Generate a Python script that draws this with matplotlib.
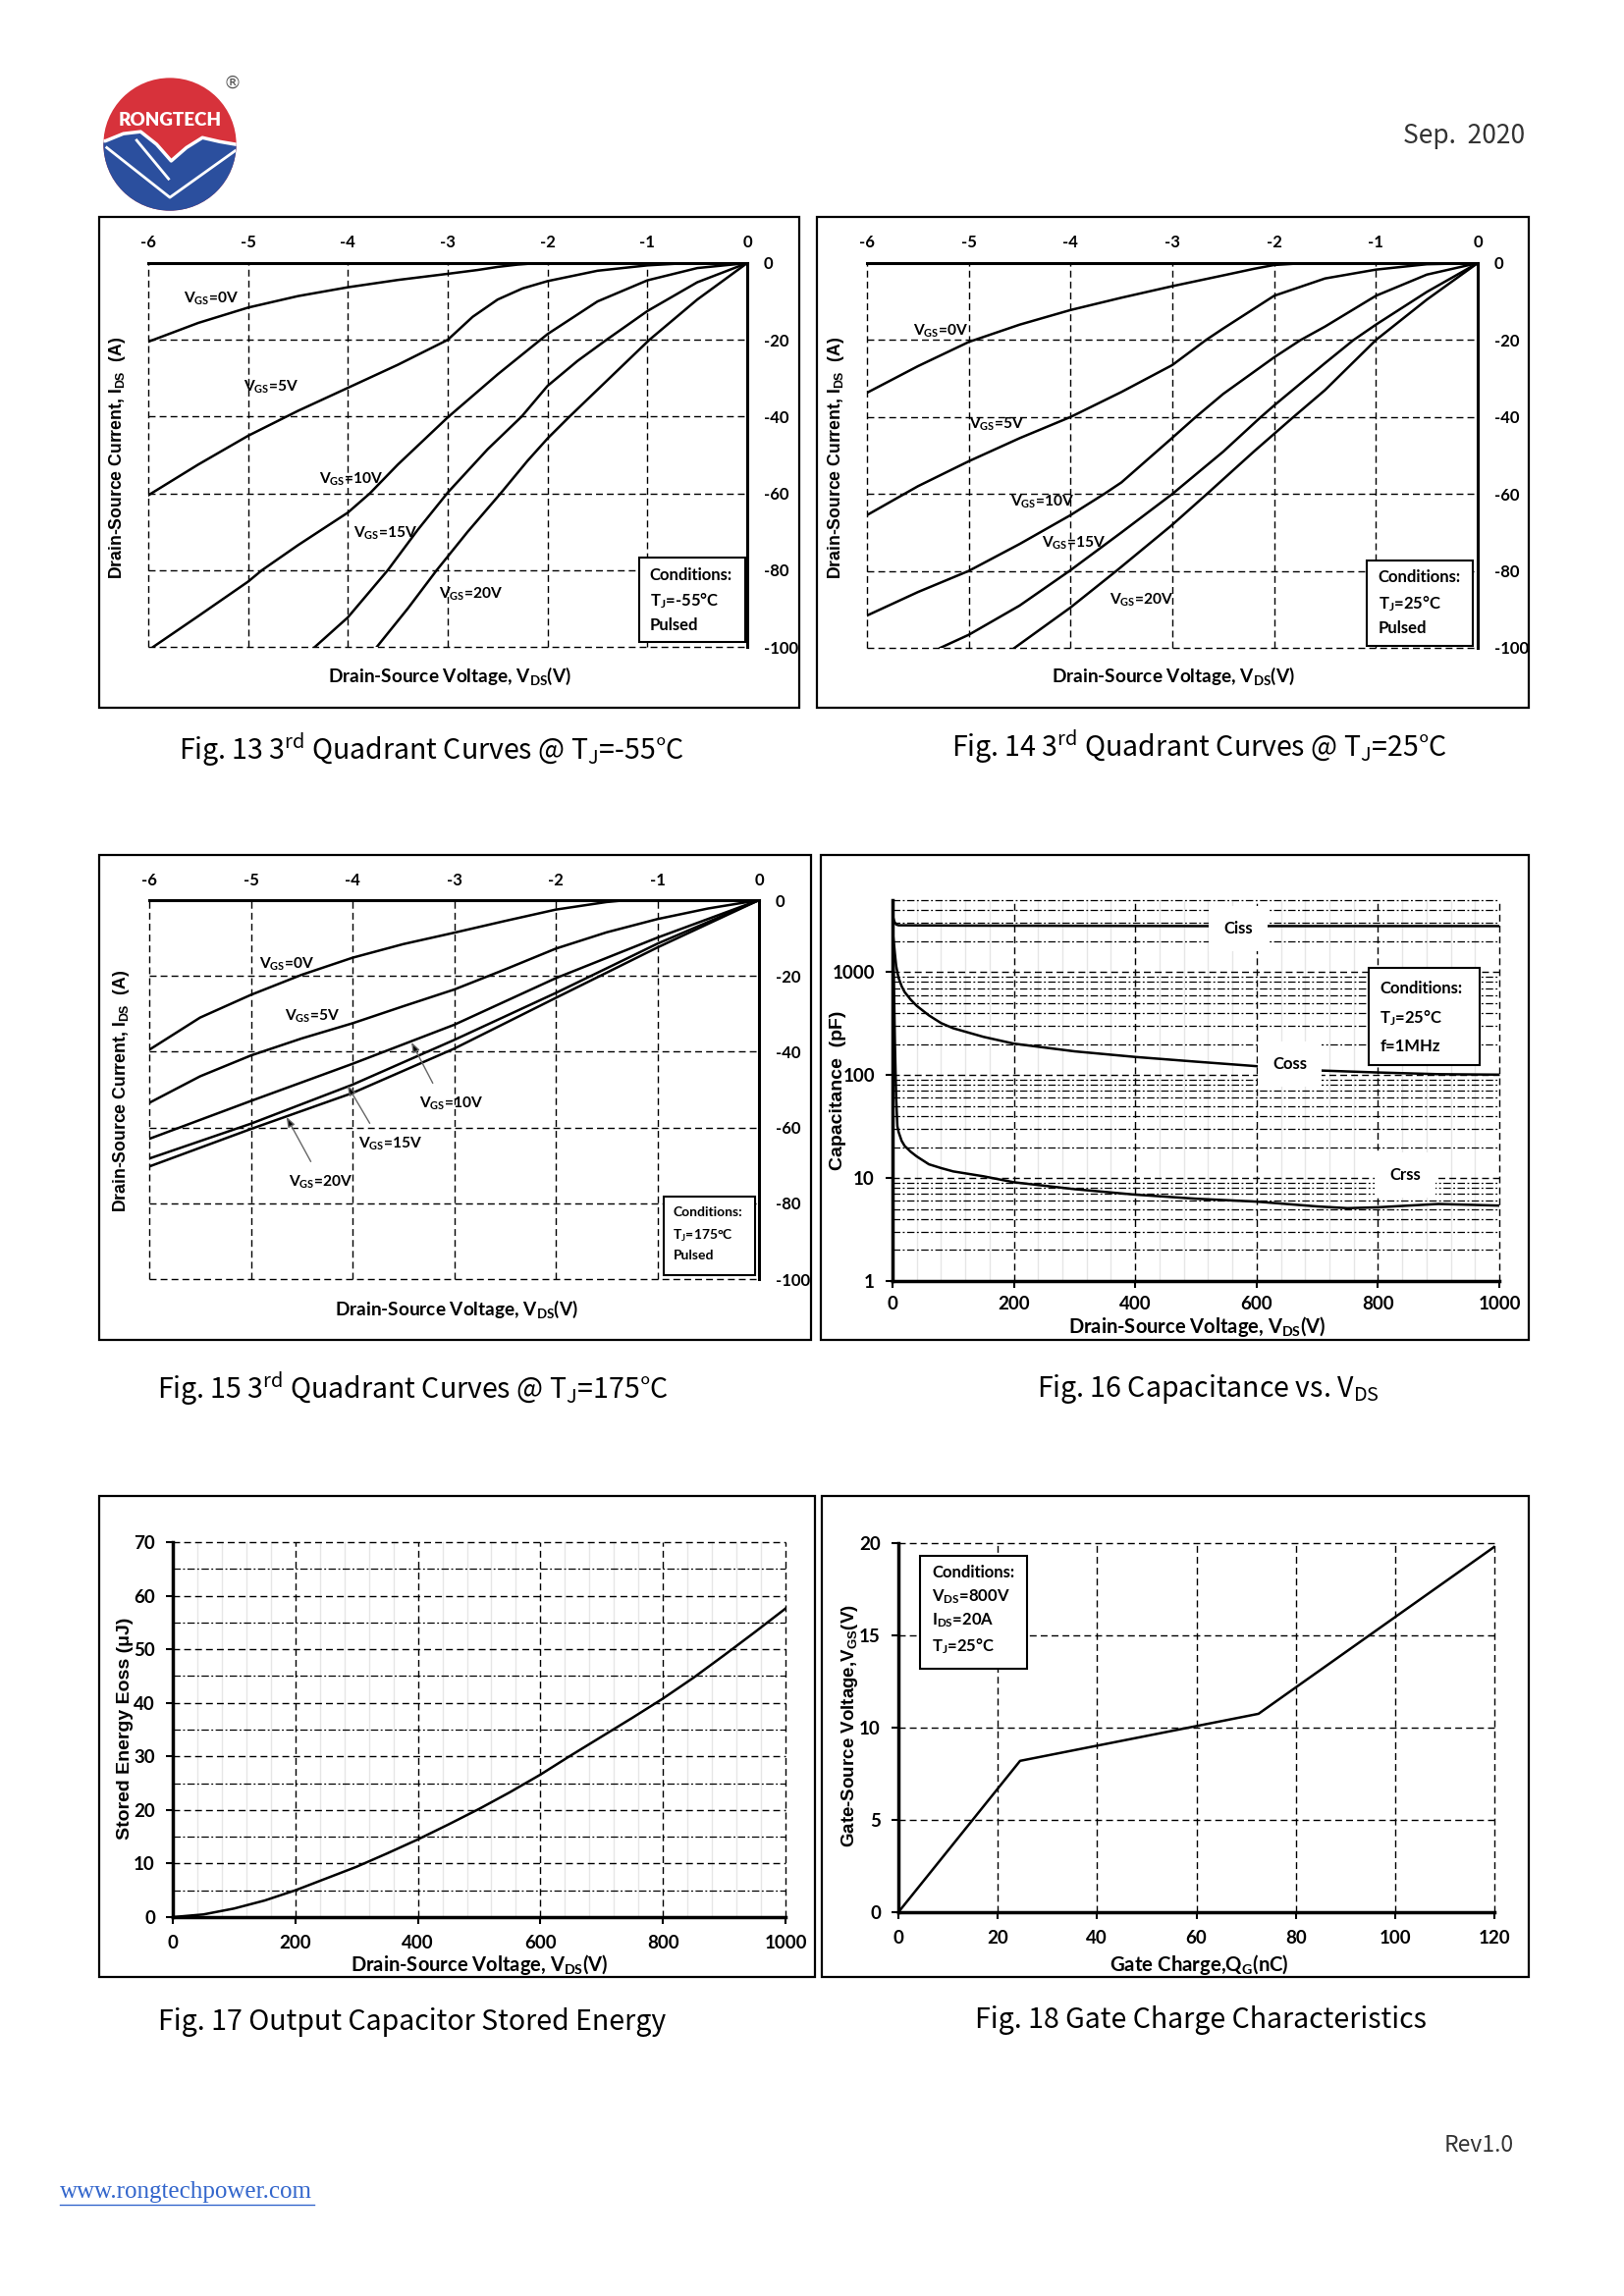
import numpy as np
import matplotlib
matplotlib.use('Agg')
import matplotlib.pyplot as plt
import matplotlib.font_manager as fm
from matplotlib.patches import Rectangle, Circle, Polygon
from matplotlib.lines import Line2D
from matplotlib.ticker import MultipleLocator, LogLocator, NullFormatter

# ---- data ----
# Fig. 13, Tj = -55C
f13_vgs0_v = [-6, -5.5, -5, -4.5, -4, -3.5, -3, -2.7, -2.5, -2.3, -2.1, 0]
f13_vgs0_i = [-20.5, -15.6, -11.6, -8.6, -6.3, -4.4, -2.8, -1.8, -1.0, -0.4, 0, 0]
f13_vgs5_v = [-6, -5.5, -5, -4.5, -4, -3.5, -3, -2.75, -2.5, -2.25, -2, -1.5, -1, -0.6, 0]
f13_vgs5_i = [-60.5, -52.5, -45, -38.5, -32.5, -26.5, -20, -14, -9.5, -6.6, -4.7, -2.0, -0.6, 0, 0]
f13_vgs10_v = [-5.95, -5.5, -5, -4.86, -4.5, -4, -3.78, -3.5, -3, -2.5, -2, -1.5, -1, -0.5, 0]
f13_vgs10_i = [-100, -92, -83, -80, -73.5, -65, -60, -52.5, -40.2, -29, -18.5, -10, -4.5, -1.3, 0]
f13_vgs15_v = [-4.33, -4, -3.6, -3.3, -3, -2.6, -2.26, -2, -1.7, -1.41, -1, -0.5, 0]
f13_vgs15_i = [-100, -92.3, -80, -69.5, -59.8, -48.5, -40, -32, -25.5, -20, -12.5, -5, 0]
f13_vgs20_v = [-3.71, -3.4, -3.11, -2.8, -2.47, -2.2, -2, -1.78, -1.4, -0.98, -0.5, 0]
f13_vgs20_i = [-100, -90, -80, -70, -60, -51.5, -45.7, -40, -30.5, -20, -9.5, 0]

# Fig. 14, Tj = 25C
f14_vgs0_v = [-6, -5.5, -5, -4.5, -4, -3.5, -3, -2.5, -2.2, -2, -1.7, 0]
f14_vgs0_i = [-33.7, -26.8, -20.5, -16, -12.2, -9, -6, -3.2, -1.5, -0.5, 0, 0]
f14_vgs5_v = [-6, -5.5, -5, -4.5, -4, -3.5, -3, -2.67, -2.5, -2, -1.5, -1, -0.5, 0]
f14_vgs5_i = [-65.5, -58, -51.5, -45.5, -40, -33.5, -26.5, -20, -17, -8.5, -4, -1.7, -0.3, 0]
f14_vgs10_v = [-6, -5.5, -5, -4.5, -4, -3.67, -3.5, -3, -2.77, -2.5, -2, -1.74, -1.5, -1, -0.5, 0]
f14_vgs10_i = [-91.6, -85.5, -80, -73, -65.5, -60, -57, -45.4, -40, -34, -24.5, -20, -16.5, -8.5, -3, 0]
f14_vgs15_v = [-5.28, -5, -4.5, -4.01, -3.5, -3, -2.5, -2.13, -2, -1.5, -1.22, -1, -0.5, 0]
f14_vgs15_i = [-100, -96.6, -89, -80, -70, -60, -49, -40, -37, -26, -20, -16, -7.5, 0]
f14_vgs20_v = [-4.55, -4, -3.55, -3, -2.66, -2.2, -1.81, -1.5, -1, -0.5, 0]
f14_vgs20_i = [-100, -89.5, -80, -68, -60, -49, -40, -33, -20, -9.5, 0]

# Fig. 15, Tj = 175C
f15_vgs0_v = [-6, -5.5, -5, -4.5, -4, -3.5, -3, -2.5, -2, -1.5, -1.3, 0]
f15_vgs0_i = [-39.5, -31, -25, -19.7, -15.2, -11.6, -8.6, -5.5, -2.5, -0.5, 0, 0]
f15_vgs5_v = [-6, -5.5, -5, -4.5, -4, -3.5, -3, -2.5, -2, -1.5, -1, -0.5, 0]
f15_vgs5_i = [-53.5, -46.5, -41, -36.5, -32.5, -28, -23.6, -18.3, -12.8, -8.5, -5, -2.2, 0]
f15_vgs10_v = [-6, -5, -4, -3, -2, -1, 0]
f15_vgs10_i = [-63, -53, -43.2, -32.9, -20.6, -9.9, 0]
f15_vgs15_v = [-6, -5, -4, -3, -2, -1, 0]
f15_vgs15_i = [-68.2, -59, -48.7, -36.9, -24.5, -11.5, 0]
f15_vgs20_v = [-6, -5, -4, -3, -2, -1, 0]
f15_vgs20_i = [-70.3, -60.4, -50.9, -39.2, -25.8, -12.5, 0]

# Fig. 16, capacitance vs VDS
ciss_v = [0, 3, 6, 10, 100, 500, 1000]
ciss_c = [3600, 3100, 2900, 2850, 2830, 2800, 2800]
coss_v = [0, 2, 4, 6, 8, 10, 15, 20, 30, 40, 60, 80, 100, 150, 200, 300, 400, 500, 600, 700, 800, 900, 1000]
coss_c = [2600, 2000, 1500, 1150, 1000, 880, 730, 640, 540, 470, 380, 320, 285, 235, 202, 170, 150, 135, 122, 111, 106, 102, 101]
crss_v = [0, 2, 4, 6, 8, 10, 15, 20, 30, 40, 60, 80, 100, 150, 200, 300, 400, 500, 600, 700, 750, 800, 850, 900, 1000]
crss_c = [2400, 1000, 200, 60, 32, 28, 23, 20.5, 18, 16.2, 13.6, 12.5, 11.6, 10.4, 9.1, 7.8, 6.9, 6.3, 5.9, 5.3, 5.1, 5.2, 5.4, 5.6, 5.4]

# Fig. 17, Eoss
eoss_v = [0, 50, 100, 150, 200, 250, 300, 350, 400, 450, 500, 550, 600, 650, 700, 750, 800, 850, 900, 950, 1000]
eoss_e = [0, 0.5, 1.6, 3.1, 5.0, 7.2, 9.4, 11.9, 14.5, 17.3, 20.2, 23.3, 26.6, 30.2, 33.7, 37.2, 40.8, 44.7, 48.9, 53.2, 57.6]

# Fig. 18, gate charge
qg_nc = [0, 24.5, 72.5, 120]
vgs_v = [0, 8.2, 10.75, 19.8]

W, H = 1654, 2339
_names = {f.name for f in fm.fontManager.ttflist}
CAL = 'Liberation Sans Narrow' if 'Liberation Sans Narrow' in _names else 'Lato'
ARI = 'Liberation Sans'
CJK = 'Noto Sans CJK SC'
plt.rcParams['font.family'] = [CAL, 'DejaVu Sans']
plt.rcParams['font.weight'] = 'bold'
plt.rcParams['axes.unicode_minus'] = False

DASH = (0, (5, 3))
DASHDOT = (0, (6, 2, 1.5, 2))

fig = plt.figure(figsize=(W / 100, H / 100), dpi=100)
fig.patch.set_facecolor('white')


def px_axes(x0, y0, x1, y1):
    return fig.add_axes([x0 / W, 1 - y1 / H, (x1 - x0) / W, (y1 - y0) / H])


def frame(x0, y0, x1, y1):
    fig.add_artist(Rectangle((x0 / W, 1 - y1 / H), (x1 - x0) / W, (y1 - y0) / H,
                             transform=fig.transFigure, fill=False, ec='black', lw=1.6))


def ftext(x, y, s, **kw):
    fig.text(x / W, 1 - y / H, s, **kw)


def unclip_grid(ax):
    ticks = ax.xaxis.get_major_ticks() + ax.yaxis.get_major_ticks() + \
        ax.xaxis.get_minor_ticks() + ax.yaxis.get_minor_ticks()
    for t in ticks:
        t.gridline.set_clip_on(False)


def cond_box(ax, x0, y0, x1, y1, lines, tx, tys, fs):
    ax.add_patch(Rectangle((x0, y0), x1 - x0, y1 - y0, transform=ax.transAxes,
                           fc='white', ec='black', lw=1.5, zorder=5, clip_on=False))
    for s, ty in zip(lines, tys):
        ax.text(tx, ty, s, transform=ax.transAxes, fontsize=fs, ha='left', va='center', zorder=6)


def quadrant(fr, box, curves, labels, cond, ylab_xy, xlab_xy, cond_fs=12):
    frame(*fr)
    ax = px_axes(*box)
    for v, i in curves:
        ax.plot(v, i, color='black', lw=1.8, zorder=3)
    ax.set_xlim(-6, 0)
    ax.set_ylim(-100, 0)
    ax.set_xticks(np.arange(-6, 1, 1))
    ax.set_yticks(np.arange(-100, 1, 20))
    ax.xaxis.tick_top()
    ax.yaxis.tick_right()
    ax.tick_params(axis='x', length=0, pad=9, labelsize=12)
    ax.tick_params(axis='y', length=0, pad=12, labelsize=12)
    ax.spines['left'].set_visible(False)
    ax.spines['bottom'].set_visible(False)
    ax.spines['top'].set_linewidth(2.2)
    ax.spines['right'].set_linewidth(2.2)
    ax.grid(True, color='black', ls=DASH, lw=1.0)
    unclip_grid(ax)
    for x, y, s in labels:
        ax.text(x, y, s, fontsize=11.2, ha='left', va='center', zorder=4)
    cond_box(ax, *cond[0], cond[1], cond[2], cond[3], cond_fs)
    ftext(ylab_xy[0], ylab_xy[1], r'Drain-Source Current, $\mathregular{I_{DS}}$  (A)',
          rotation=90, ha='center', va='center', family=ARI, fontsize=12.7)
    ftext(xlab_xy[0], xlab_xy[1], r'Drain-Source Voltage, $\mathregular{V_{DS}}$(V)',
          ha='center', va='center', fontsize=13.7)
    return ax


def vgs(n):
    return r'$\mathregular{V_{GS}}$=%dV' % n


# ---- Fig. 13 ----
quadrant((101, 221, 814, 721), (151, 268, 761, 659),
         [(f13_vgs0_v, f13_vgs0_i), (f13_vgs5_v, f13_vgs5_i), (f13_vgs10_v, f13_vgs10_i),
          (f13_vgs15_v, f13_vgs15_i), (f13_vgs20_v, f13_vgs20_i)],
         [(-5.65, -9.4, vgs(0)), (-5.05, -32.2, vgs(5)), (-4.29, -56.4, vgs(10)),
          (-3.94, -70.3, vgs(15)), (-3.09, -86.3, vgs(20))],
         ((0.820, 0.013, 0.997, 0.232), ['Conditions:', r'$\mathregular{T_J}$=-55°C', 'Pulsed'],
          0.8375, [0.186, 0.12, 0.056]),
         (119, 466), (458, 689))

# ---- Fig. 14 ----
quadrant((832, 221, 1557, 721), (883, 268, 1505, 660),
         [(f14_vgs0_v, f14_vgs0_i), (f14_vgs5_v, f14_vgs5_i), (f14_vgs10_v, f14_vgs10_i),
          (f14_vgs15_v, f14_vgs15_i), (f14_vgs20_v, f14_vgs20_i)],
         [(-5.55, -17.7, vgs(0)), (-5.0, -42, vgs(5)), (-4.59, -62, vgs(10)),
          (-4.28, -72.7, vgs(15)), (-3.62, -87.6, vgs(20))],
         ((0.818, 0.004, 0.992, 0.226), ['Conditions:', r'$\mathregular{T_J}$=25°C', 'Pulsed'],
          0.837, [0.183, 0.115, 0.051]),
         (852, 466), (1195, 689))

# ---- Fig. 15 ----
ax15 = quadrant((101, 871, 826, 1365), (152, 917, 773, 1303),
                [(f15_vgs0_v, f15_vgs0_i), (f15_vgs5_v, f15_vgs5_i), (f15_vgs10_v, f15_vgs10_i),
                 (f15_vgs15_v, f15_vgs15_i), (f15_vgs20_v, f15_vgs20_i)],
                [(-4.92, -16.9, vgs(0)), (-4.67, -30.7, vgs(5)), (-3.34, -53.6, vgs(10)),
                 (-3.94, -64.3, vgs(15)), (-4.63, -74.5, vgs(20))],
                ((0.843, 0.011, 0.993, 0.217), ['Conditions:', r'$\mathregular{T_J}$=175°C', 'Pulsed'],
                 0.859, [0.176, 0.115, 0.061]),
                (124, 1111), (465, 1334), cond_fs=10)
for tail, head in [((-3.21, -48.3), (-3.42, -37.5)), ((-3.83, -58.9), (-4.05, -48.9)),
                   ((-4.41, -69.0), (-4.65, -57.2))]:
    ax15.annotate('', xy=head, xytext=tail, zorder=4,
                  arrowprops=dict(arrowstyle='-|>,head_length=0.6,head_width=0.22',
                                  ec='#666666', fc='black', lw=1.0, shrinkA=0, shrinkB=0))

# ---- Fig. 16 ----
frame(836, 871, 1557, 1365)
ax = px_axes(909, 917, 1527, 1305)
ax.plot(ciss_v, ciss_c, color='black', lw=1.8, zorder=3)
ax.plot(coss_v, coss_c, color='black', lw=1.8, zorder=3)
ax.plot(crss_v, crss_c, color='black', lw=1.8, zorder=3)
ax.set_yscale('log')
ax.set_xlim(0, 1000)
ax.set_ylim(1, 5000)
ax.set_xticks(np.arange(0, 1001, 200))
ax.set_yticks([1, 10, 100, 1000])
ax.set_yticklabels(['1', '10', '100', '1000'])
ax.yaxis.set_minor_locator(LogLocator(base=10, subs=np.arange(2, 10)))
ax.yaxis.set_minor_formatter(NullFormatter())
ax.xaxis.set_minor_locator(MultipleLocator(40))
ax.tick_params(axis='both', which='major', length=5, width=1.5, labelsize=13.5)
ax.tick_params(axis='y', which='major', pad=8)
ax.tick_params(axis='x', which='major', pad=6)
ax.tick_params(which='minor', length=0)
ax.spines['top'].set_visible(False)
ax.spines['right'].set_visible(False)
ax.spines['left'].set_linewidth(2.5)
ax.spines['bottom'].set_linewidth(2.5)
ax.xaxis.grid(True, which='major', color='black', ls=DASH, lw=1.0)
ax.yaxis.grid(True, which='major', color='black', ls=DASH, lw=1.0)
ax.yaxis.grid(True, which='minor', color='black', ls=DASHDOT, lw=0.9)
ax.xaxis.grid(True, which='minor', color='#e6e6e6', ls='-', lw=1.0)
unclip_grid(ax)
wb = dict(facecolor='white', edgecolor='none', boxstyle='square,pad=0.9')
ax.text(570, 2650, 'Ciss', fontsize=12, ha='center', va='center', zorder=4, bbox=wb)
ax.text(655, 128, 'Coss', fontsize=12, ha='center', va='center', zorder=4, bbox=wb)
ax.text(845, 10.8, 'Crss', fontsize=12, ha='center', va='center', zorder=4, bbox=wb)
cond_box(ax, 0.784, 0.566, 0.967, 0.821,
         ['Conditions:', r'$\mathregular{T_J}$=25°C', 'f=1MHz'], 0.803, [0.768, 0.690, 0.617], 12)
ftext(854, 1111, 'Capacitance  (pF)', rotation=90, ha='center', va='center', family=ARI, fontsize=14)
ftext(1219, 1352, r'Drain-Source Voltage, $\mathregular{V_{DS}}$(V)', ha='center', va='center', fontsize=14.5)

# ---- Fig. 17 ----
frame(101, 1524, 830, 2014)
ax = px_axes(176, 1571, 800, 1953)
ax.plot(eoss_v, eoss_e, color='black', lw=1.8, zorder=3)
ax.set_xlim(0, 1000)
ax.set_ylim(0, 70)
ax.set_xticks(np.arange(0, 1001, 200))
ax.set_yticks(np.arange(0, 71, 10))
ax.yaxis.set_minor_locator(MultipleLocator(5))
ax.xaxis.set_minor_locator(MultipleLocator(40))
ax.tick_params(axis='both', which='major', length=5, width=1.5, labelsize=13.5)
ax.tick_params(axis='y', which='major', pad=8)
ax.tick_params(axis='x', which='major', pad=8)
ax.tick_params(which='minor', length=0)
ax.spines['top'].set_visible(False)
ax.spines['right'].set_visible(False)
ax.spines['left'].set_linewidth(2.5)
ax.spines['bottom'].set_linewidth(2.5)
ax.xaxis.grid(True, which='major', color='black', ls=DASH, lw=1.0)
ax.yaxis.grid(True, which='major', color='black', ls=DASH, lw=1.0)
ax.yaxis.grid(True, which='minor', color='black', ls=DASHDOT, lw=0.9)
ax.xaxis.grid(True, which='minor', color='#e6e6e6', ls='-', lw=1.0)
unclip_grid(ax)
ftext(128, 1761, 'Stored Energy Eoss (μJ)', rotation=90, ha='center', va='center', family=ARI, fontsize=14)
ftext(488, 2001, r'Drain-Source Voltage, $\mathregular{V_{DS}}$(V)', ha='center', va='center', fontsize=14.5)

# ---- Fig. 18 ----
frame(837, 1524, 1557, 2014)
ax = px_axes(915, 1572, 1522, 1948)
ax.plot(qg_nc, vgs_v, color='black', lw=1.8, zorder=3)
ax.set_xlim(0, 120)
ax.set_ylim(0, 20)
ax.set_xticks(np.arange(0, 121, 20))
ax.set_yticks(np.arange(0, 21, 5))
ax.tick_params(axis='both', which='major', length=5, width=1.5, labelsize=13.5)
ax.tick_params(axis='y', which='major', pad=8)
ax.tick_params(axis='x', which='major', pad=8)
ax.spines['top'].set_visible(False)
ax.spines['right'].set_visible(False)
ax.spines['left'].set_linewidth(2.5)
ax.spines['bottom'].set_linewidth(2.5)
ax.grid(True, color='black', ls=DASH, lw=1.0)
unclip_grid(ax)
cond_box(ax, 0.036, 0.66, 0.215, 0.965,
         ['Conditions:', r'$\mathregular{V_{DS}}$=800V', r'$\mathregular{I_{DS}}$=20A', r'$\mathregular{T_J}$=25°C'],
         0.056, [0.92, 0.855, 0.79, 0.72], 12)
ftext(866, 1758, r'Gate-Source Voltage,$\mathregular{V_{GS}}$(V)', rotation=90, ha='center', va='center',
      family=ARI, fontsize=13.5)
ftext(1221, 2001, r'Gate Charge,$\mathregular{Q_G}$(nC)', ha='center', va='center', fontsize=14.7)

# ---- captions ----
caps = [
    (182, 764, r'Fig. 13 3$\mathregular{^{rd}}$ Quadrant Curves @ T$\mathregular{_J}$=-55°C'),
    (969, 761, r'Fig. 14 3$\mathregular{^{rd}}$ Quadrant Curves @ T$\mathregular{_J}$=25°C'),
    (160, 1415, r'Fig. 15 3$\mathregular{^{rd}}$ Quadrant Curves @ T$\mathregular{_J}$=175°C'),
    (1056, 1415, r'Fig. 16 Capacitance vs. V$\mathregular{_{DS}}$'),
    (161, 2060, 'Fig. 17 Output Capacitor Stored Energy'),
    (993, 2058, 'Fig. 18 Gate Charge Characteristics'),
]
for x, y, s in caps:
    ftext(x, y, s, ha='left', va='center', family=[CJK, 'DejaVu Sans'], fontsize=20.5, weight='medium')

# ---- header / footer ----
ftext(1553, 139, 'Sep.  2020', ha='right', va='center', family=[CJK, 'DejaVu Sans'],
      fontsize=19, weight='normal', color='#333333')
ftext(1542, 2185, 'Rev1.0', ha='right', va='center', family=[CJK, 'DejaVu Sans'],
      fontsize=16.5, weight='normal', color='#333333')
ftext(61, 2233, 'www.rongtechpower.com', ha='left', va='center', family='Liberation Serif',
      fontsize=18, weight='normal', color='#3366cc')
fig.add_artist(Line2D([61 / W, 320 / W], [1 - 2246 / H, 1 - 2246 / H], transform=fig.transFigure,
                      color='#3366cc', lw=1.0))

# ---- logo ----
lg = px_axes(104, 78, 242, 216)
lg.set_xlim(-1.02, 1.02)
lg.set_ylim(-1.02, 1.02)
lg.set_aspect('equal')
lg.axis('off')
disc = Circle((0, 0), 1.0, fc='#d7323b', ec='none')
lg.add_patch(disc)
wave = [(-1.1, 0.05), (-0.97, 0.05), (-0.7, 0.16), (-0.44, 0.19), (-0.2, 0.0), (0.02, -0.25),
        (0.25, -0.05), (0.49, 0.1), (0.75, 0.04), (1.1, -0.02)]
blue = Polygon(wave + [(1.1, -1.1), (-1.1, -1.1)], closed=True, fc='#2b4f9e', ec='none')
lg.add_patch(blue)
blue.set_clip_path(disc)
wx, wy = zip(*wave)
wl = lg.plot(wx, wy, color='white', lw=2.5)[0]
wl.set_clip_path(disc)
for pts in [[(-0.95, -0.05), (0.0, -0.8), (0.98, -0.1)], [(-0.5, 0.06), (-0.02, -0.52)]]:
    px, py = zip(*pts)
    ln = lg.plot(px, py, color='white', lw=2.0)[0]
    ln.set_clip_path(disc)
lg.text(0, 0.36, 'RONGTECH', color='white', fontsize=13.5, ha='center', va='center', weight='heavy')
ftext(236, 85, '®', ha='center', va='center', family='DejaVu Sans', fontsize=13, weight='normal',
      color='#555555')

fig.savefig('out.png', dpi=100, facecolor='white')
